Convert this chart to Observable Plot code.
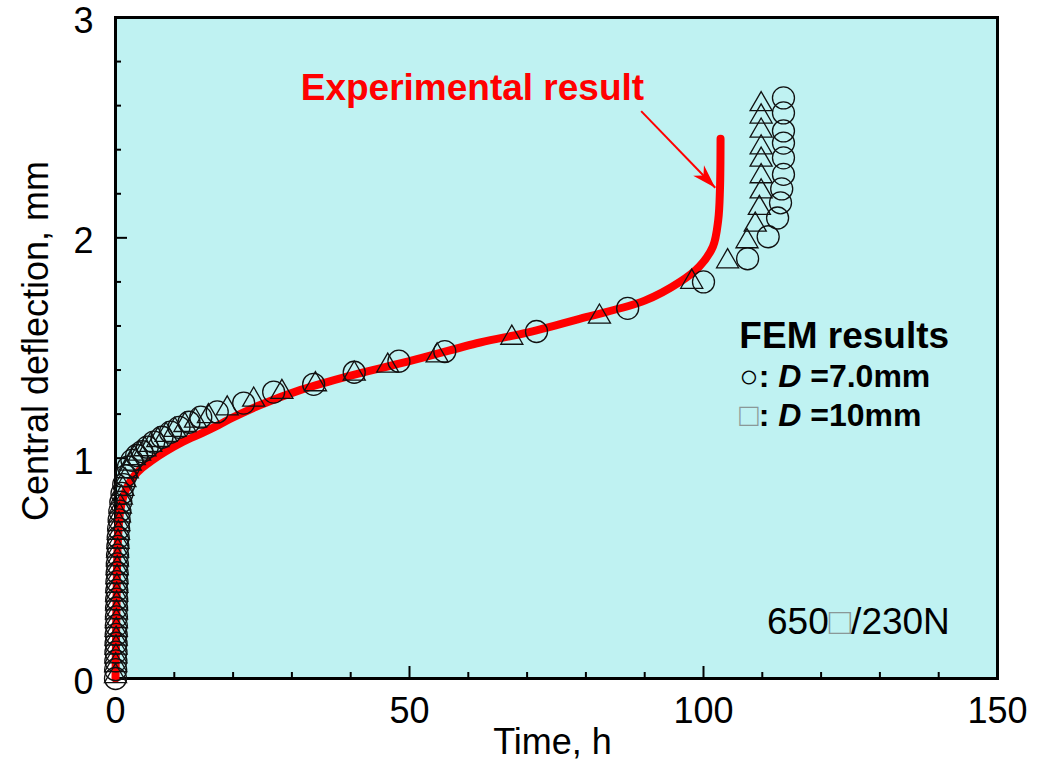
<!DOCTYPE html>
<html>
<head>
<meta charset="utf-8">
<script src="https://cdn.jsdelivr.net/npm/d3@7"></script>
<script src="https://cdn.jsdelivr.net/npm/@observablehq/plot@0.6"></script>
<style>
  html, body { margin: 0; padding: 0; background: #ffffff; }
  #chart svg { display: block; }
</style>
</head>
<body>
<div id="chart"></div>
<script>
// ---- Experimental result (red curve) ----
const expTime = [0, 0.1, 0.2, 0.3, 0.5, 0.8, 1.4, 2.2, 3.2, 4.5, 6.2, 8.5, 11.5, 14.8, 17.5, 20.0, 24.5, 31.5, 40, 50, 62, 70, 80, 90, 96, 99.3, 101.6, 102.5, 102.8, 102.9];
const expDefl = [0, 0.2, 0.4, 0.55, 0.67, 0.76, 0.83, 0.88, 0.92, 0.955, 0.99, 1.03, 1.075, 1.115, 1.15, 1.185, 1.24, 1.31, 1.375, 1.44, 1.525, 1.57, 1.64, 1.715, 1.8, 1.87, 1.96, 2.08, 2.22, 2.45];

// ---- FEM results, D = 7.0 mm (circles) ----
const fem7Time = [0, 0.03, 0.06, 0.08, 0.1, 0.12, 0.14, 0.16, 0.18, 0.2, 0.22, 0.25, 0.28, 0.31, 0.35, 0.4, 0.46, 0.53, 0.62, 0.74, 0.9, 1.1, 1.4, 1.75, 2.2, 2.8, 3.6, 4.5, 5.4, 6.5, 7.9, 9.35, 10.8, 12.5, 14.5, 17.3, 21.8, 26.9, 33.7, 40.6, 48.2, 56.0, 71.6, 87.1, 100.0, 107.5, 111.0, 112.6, 113.1, 113.3, 113.6, 113.6, 113.6, 113.6, 113.6, 113.6];
const fem7Defl = [0, 0.04, 0.08, 0.12, 0.16, 0.2, 0.24, 0.28, 0.32, 0.36, 0.4, 0.44, 0.48, 0.52, 0.56, 0.6, 0.64, 0.68, 0.72, 0.76, 0.8, 0.84, 0.88, 0.92, 0.96, 0.99, 1.012, 1.03, 1.05, 1.073, 1.095, 1.118, 1.14, 1.163, 1.186, 1.21, 1.25, 1.30, 1.335, 1.39, 1.44, 1.484, 1.575, 1.68, 1.80, 1.905, 2.005, 2.09, 2.159, 2.222, 2.288, 2.363, 2.43, 2.485, 2.567, 2.635];

// ---- FEM results, D = 10 mm (triangles) ----
const fem10Time = [0, 0.04, 0.07, 0.09, 0.11, 0.13, 0.15, 0.17, 0.19, 0.21, 0.23, 0.26, 0.29, 0.33, 0.37, 0.43, 0.5, 0.58, 0.68, 0.82, 1.0, 1.25, 1.6, 2.0, 2.5, 3.2, 4.1, 5.0, 6.0, 7.2, 8.6, 10.1, 11.8, 13.6, 15.8, 19.0, 23.5, 28.3, 34.0, 40.6, 46.3, 54.7, 67.4, 82.3, 98.0, 104.1, 107.4, 108.8, 109.5, 109.8, 109.8, 109.8, 109.8, 109.8, 109.8, 109.8];
const fem10Defl = [0.01, 0.06, 0.10, 0.14, 0.18, 0.22, 0.26, 0.30, 0.34, 0.38, 0.42, 0.46, 0.50, 0.54, 0.58, 0.62, 0.66, 0.70, 0.74, 0.78, 0.82, 0.86, 0.90, 0.94, 0.975, 1.0, 1.02, 1.04, 1.06, 1.082, 1.105, 1.128, 1.15, 1.17, 1.19, 1.225, 1.265, 1.30, 1.335, 1.383, 1.419, 1.466, 1.546, 1.642, 1.80, 1.893, 1.984, 2.059, 2.135, 2.21, 2.279, 2.354, 2.41, 2.486, 2.55, 2.606];

// ---- Ticks ----
const xMajorTicks = [0, 50, 100, 150];
const xMinorTicks = [10, 20, 30, 40, 60, 70, 80, 90, 110, 120, 130, 140];
const yMajorTicks = [0, 1, 2, 3];
const yMinorTicks = [0.2, 0.4, 0.6, 0.8, 1.2, 1.4, 1.6, 1.8, 2.2, 2.4, 2.6, 2.8];

// ---- Labels & annotations ----
const xAxisLabel = "Time, h";
const yAxisLabel = "Central deflection, mm";
const expLabel = ["Experimental result"];
const expLabelPos = [{t: 31.5, d: 2.624}];
const arrowFrom = [{t: 89.4, d: 2.575}];
const arrowTo = [{t: 102.0, d: 2.227}];
const femTitle = ["FEM results"];
const femTitlePos = [{t: 106.1, d: 1.499}];
const femLines = ["○: D =7.0mm", "□: D =10mm"];
const femLinesPos = [{t: 106.1, d: 1.321}, {t: 106.1, d: 1.144}];
const conditionLabel = ["650□/230N"];
const conditionPos = [{t: 110.8, d: 0.203}];

// ---- Build tables ----
const expData = expTime.map((t, i) => ({t, d: expDefl[i]}));
const fem7Data = fem7Time.map((t, i) => ({t, d: fem7Defl[i]}));
const fem10Data = fem10Time.map((t, i) => ({t, d: fem10Defl[i]}));
const arrowData = arrowFrom.map((a, i) => ({t1: a.t, d1: a.d, t2: arrowTo[i].t, d2: arrowTo[i].d}));
const expLabelData = expLabel.map((s, i) => ({s, ...expLabelPos[i]}));
const femTitleData = femTitle.map((s, i) => ({s, ...femTitlePos[i]}));
const femLinesData = femLines.map((s, i) => ({s, ...femLinesPos[i]}));
const conditionData = conditionLabel.map((s, i) => ({s, ...conditionPos[i]}));

const W = 1039, H = 762;
const mL = 115, mR = 42, mT = 17, mB = 84;
const innerW = W - mL - mR, innerH = H - mT - mB;
const FONT = "'Liberation Sans', Arial, Helvetica, sans-serif";
const BG = "#bff2f2";
const RED = "#ff0000";

// scales used to orient the arrowhead along the arrow shaft
const xs = Plot.scale({x: {domain: [0, 150], range: [mL, W - mR]}});
const ys = Plot.scale({y: {domain: [0, 3], range: [H - mB, mT]}});
arrowData.forEach(a => {
  const dx = xs.apply(a.t2) - xs.apply(a.t1);
  const dy = ys.apply(a.d2) - ys.apply(a.d1);
  a.angle = Math.atan2(dy, dx) * 180 / Math.PI + 90; // symbol points up by default
});
// barbed arrowhead, tip at the symbol origin, pointing up
const arrowHead = {
  draw(ctx) {
    ctx.moveTo(0, 0);
    ctx.lineTo(7.5, 24);
    ctx.lineTo(0, 17);
    ctx.lineTo(-7.5, 24);
    ctx.closePath();
  }
};

const svg = Plot.plot({
  width: W,
  height: H,
  marginLeft: mL,
  marginRight: mR,
  marginTop: mT,
  marginBottom: mB,
  style: {fontFamily: FONT, fontSize: "36px", color: "#000", background: "#fff", overflow: "visible"},
  x: {domain: [0, 150]},
  y: {domain: [0, 3]},
  marks: [
    Plot.frame({fill: BG, stroke: "none"}),
    // inward ticks
    Plot.ruleX(xMinorTicks, {insetTop: innerH - 6, stroke: "#000", strokeWidth: 2}),
    Plot.ruleX(xMajorTicks, {insetTop: innerH - 12, stroke: "#000", strokeWidth: 2}),
    Plot.ruleY(yMinorTicks, {insetRight: innerW - 6, stroke: "#000", strokeWidth: 2}),
    Plot.ruleY(yMajorTicks, {insetRight: innerW - 12, stroke: "#000", strokeWidth: 2}),
    Plot.frame({stroke: "#000", strokeWidth: 3, fill: "none"}),
    // experimental curve
    Plot.line(expData, {x: "t", y: "d", stroke: RED, strokeWidth: 8, curve: "catmull-rom", strokeLinejoin: "round"}),
    // FEM markers
    Plot.dot(fem7Data, {x: "t", y: "d", r: 11, stroke: "#111", strokeWidth: 1.3, fill: "none"}),
    Plot.dot(fem10Data, {x: "t", y: "d", r: 8.2, symbol: "triangle", stroke: "#111", strokeWidth: 1.3, fill: "none"}),
    // arrow: shaft + filled barbed head
    Plot.link(arrowData, {x1: "t1", y1: "d1", x2: "t2", y2: "d2", stroke: RED, strokeWidth: 2}),
    Plot.dot(arrowData, {x: "t2", y: "d2", symbol: arrowHead, rotate: "angle", fill: RED, stroke: "none", r: 10}),
    // annotations
    Plot.text(expLabelData, {x: "t", y: "d", text: "s", fill: RED, fontWeight: "bold", fontSize: 37, textAnchor: "start", lineAnchor: "bottom"}),
    Plot.text(femTitleData, {x: "t", y: "d", text: "s", fill: "#000", fontWeight: "bold", fontSize: 37, textAnchor: "start", lineAnchor: "bottom"}),
    Plot.text(femLinesData, {x: "t", y: "d", text: "s", fill: "#000", fontWeight: "bold", fontSize: 32, textAnchor: "start", lineAnchor: "bottom"}),
    Plot.text(conditionData, {x: "t", y: "d", text: "s", fill: "#000", fontSize: 37, textAnchor: "start", lineAnchor: "bottom"}),
    // axes (labels only; ticks drawn inward above)
    Plot.axisX(xMajorTicks, {tickSize: 0, tickPadding: 19, fontSize: 36, label: null, fill: "#000", tickFormat: d => String(d)}),
    Plot.axisY(yMajorTicks, {tickSize: 0, tickPadding: 22, fontSize: 36, label: null, dy: 4, fill: "#000", tickFormat: d => String(d)}),
    Plot.text([xAxisLabel], {frameAnchor: "bottom", dy: 75, dx: -4, lineAnchor: "bottom", fontSize: 36, fill: "#000"}),
    Plot.text([yAxisLabel], {frameAnchor: "left", rotate: -90, dx: -68, dy: -7, lineAnchor: "bottom", textAnchor: "middle", fontSize: 36, fill: "#000"})
  ]
});

// rich text: italic "D", grey boxes
const NS = "http://www.w3.org/2000/svg";
d3.select(svg).selectAll("text").each(function () {
  const s = this.textContent;
  if (!/□|D(?= =)|○/.test(s) || this.children.length > 0) return;
  this.textContent = "";
  const re = /(□)|(D(?= =))/g;
  let last = 0, m;
  while ((m = re.exec(s))) {
    if (m.index > last) this.appendChild(document.createTextNode(s.slice(last, m.index)));
    const ts = document.createElementNS(NS, "tspan");
    ts.textContent = m[0];
    if (m[1]) { ts.setAttribute("fill", "#8a9898"); ts.setAttribute("font-weight", "normal"); }
    else ts.setAttribute("font-style", "italic");
    this.appendChild(ts);
    last = m.index + m[0].length;
  }
  if (last < s.length) this.appendChild(document.createTextNode(s.slice(last)));
});

document.getElementById("chart").appendChild(svg);
</script>
</body>
</html>
